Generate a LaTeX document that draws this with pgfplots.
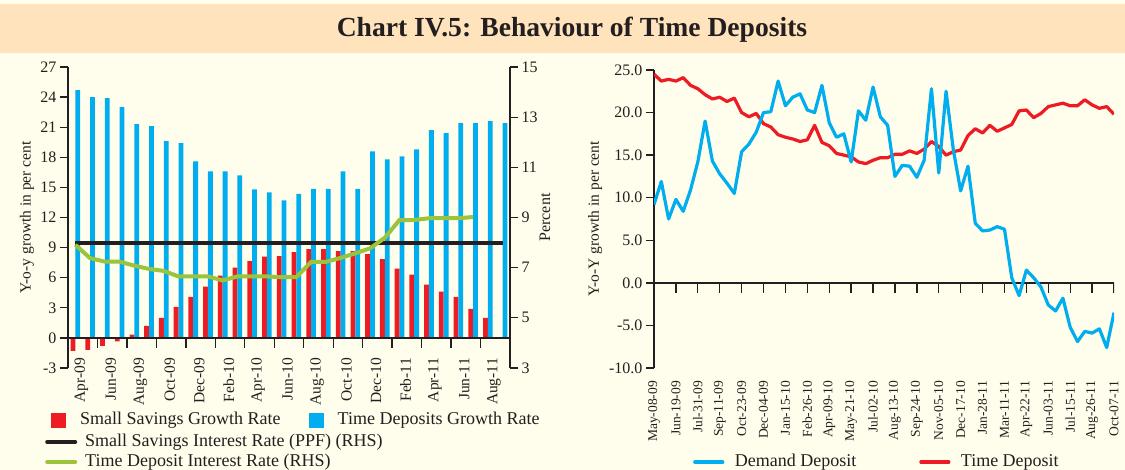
\documentclass[border=0pt]{standalone}
\usepackage{fontspec}
\setmainfont{Liberation Serif}
\usepackage{pgfplots}
\pgfplotsset{compat=1.18}
\definecolor{bg}{HTML}{FFFDEB}
\definecolor{band}{HTML}{FFE3BC}
\definecolor{cred}{HTML}{ED1C24}
\definecolor{cblue}{HTML}{00AEEF}
\definecolor{cgreen}{HTML}{9BC43C}
\definecolor{axc}{HTML}{231F20}
\pgfplotsset{
  common/.style={scale only axis,
    /pgf/number format/assume math mode=true,
    tick label style={font=\fontsize{16}{18}\selectfont, text=axc},
    axis line style={axc, line width=1.3pt, -},
    tick style={axc, line width=1.3pt},
    major tick length=8pt, tick align=outside},
  barleg/.style={legend image code/.code={\fill[##1] (0pt,-7.5pt) rectangle (15pt,7.5pt); \path[draw=none, fill=none] (0pt,0pt) -- (29pt,0pt);}},
  lineleg/.style={legend image code/.code={\draw[##1, line cap=round] (0pt,0pt) -- (28pt,0pt); \path[draw=none, fill=none] (0pt,0pt) -- (38pt,0pt);}},
  rlineleg/.style={legend image code/.code={\draw[##1, line cap=round] (0pt,0pt) -- (28pt,0pt); \path[draw=none, fill=none] (0pt,0pt) -- (40pt,0pt);}},
  legcells/.style={font=\fontsize{18}{20}\selectfont, text=axc, draw=none, fill=none, inner sep=0pt,
    nodes={inner sep=0pt, text height=12.5pt, text depth=4pt}},
}
\begin{document}
\begin{tikzpicture}[x=1pt,y=1pt]
\path[use as bounding box] (0,0) rectangle (1125,470);
\fill[bg] (0,0) rectangle (1125,470);
\fill[band] (0,417) rectangle (1125,466);
\node[font=\fontsize{27.6}{30}\selectfont\bfseries, text=axc] at (572,440) {Chart IV.5: Behaviour of Time Deposits};

% ---------------- left chart: bars
\begin{axis}[common, at={(68pt,102pt)}, anchor=south west, width=442pt, height=301pt,
  xmin=-0.5, xmax=29.5, ymin=-3, ymax=27, ytick={-3,0,...,27},
  axis y line*=left, ytick pos=left, yticklabel pos=left, axis x line=none,
  ybar=0pt, bar width=4.8pt,
  ylabel={Y-o-y growth in per cent},
  every axis y label/.style={at={(axis description cs:-0.093,0.5)}, rotate=90, anchor=center, font=\fontsize{15.5}{17}\selectfont, text=axc},
  legend style={legcells, at={(axis description cs:-0.0385,-0.1744)}, anchor=west,
    /tikz/every even column/.append style={column sep=28pt}},
  legend columns=-1, legend cell align=left]
\addplot[fill=cred, draw=none, barleg] coordinates {
(0,-1.3)(1,-1.2)(2,-0.8)(3,-0.35)(4,0.33)(5,1.2)(6,2.0)(7,3.1)(8,4.1)(9,5.1)
(10,6.2)(11,7.0)(12,7.65)(13,8.1)(14,8.15)(15,8.55)(16,8.85)(17,8.85)(18,8.65)(19,8.65)
(20,8.35)(21,7.85)(22,6.9)(23,6.3)(24,5.3)(25,4.6)(26,4.1)(27,2.9)(28,2.0)};
\addlegendentry{Small Savings Growth Rate}
\addplot[fill=cblue, draw=none, barleg] coordinates {
(0,24.7)(1,24.0)(2,23.9)(3,23.0)(4,21.3)(5,21.1)(6,19.6)(7,19.4)(8,17.6)(9,16.6)
(10,16.6)(11,16.2)(12,14.8)(13,14.5)(14,13.7)(15,14.35)(16,14.85)(17,14.85)(18,16.6)(19,14.85)
(20,18.6)(21,17.8)(22,18.1)(23,18.8)(24,20.7)(25,20.4)(26,21.4)(27,21.4)(28,21.6)(29,21.4)};
\addlegendentry{Time Deposits Growth Rate}
\end{axis}

% ---------------- left chart: rates (RHS)
\begin{axis}[common, at={(68pt,102pt)}, anchor=south west, width=442pt, height=301pt,
  xmin=-0.5, xmax=29.5, ymin=3, ymax=15, ytick={3,5,...,15},
  axis y line*=right, ytick pos=right, yticklabel pos=right,
  axis x line*=bottom, xtick pos=left, xticklabel pos=left,
  x axis line style={draw=none}, xtick style={draw=none},
  xtick={0,2,...,28},
  xticklabels={Apr-09,Jun-09,Aug-09,Oct-09,Dec-09,Feb-10,Apr-10,Jun-10,Aug-10,Oct-10,Dec-10,Feb-11,Apr-11,Jun-11,Aug-11},
  xticklabel style={xshift=6pt, yshift=19pt, rotate=90, anchor=east, inner sep=1pt, font=\fontsize{15.5}{17}\selectfont},
  ylabel={Percent},
  every axis y label/.style={at={(axis description cs:1.079,0.5)}, rotate=90, anchor=center, font=\fontsize{16}{18}\selectfont, text=axc},
  legend style={legcells, at={(axis description cs:-0.052,-0.279)}, anchor=west, row sep=3.5pt},
  legend cell align=left]
\addplot[axc, line width=1.3pt, forget plot] coordinates {(-0.5,4.2)(29.5,4.2)};
\pgfplotsinvokeforeach{1.5,3.5,...,27.5}{\addplot[axc, line width=1.3pt, forget plot] coordinates {(#1,4.2)(#1,3.78)};}
\addplot[axc, line width=4pt, lineleg] coordinates {(0,8)(29,8)};
\addlegendentry{Small Savings Interest Rate (PPF) (RHS)}
\addplot[cgreen, line width=4pt, lineleg] coordinates {
(0,7.91)(1,7.38)(2,7.24)(3,7.24)(4,7.08)(5,6.95)(6,6.87)(7,6.65)(8,6.65)(9,6.65)
(10,6.49)(11,6.65)(12,6.65)(13,6.65)(14,6.62)(15,6.62)(16,7.23)(17,7.23)(18,7.39)(19,7.57)
(20,7.77)(21,8.19)(22,8.9)(23,8.9)(24,8.97)(25,8.97)(26,8.97)(27,9.02)};
\addlegendentry{Time Deposit Interest Rate (RHS)}
\end{axis}

% ---------------- right chart
\begin{axis}[common, at={(654pt,102pt)}, anchor=south west, width=460pt, height=298pt,
  xmin=0, xmax=63, ymin=-10, ymax=25, ytick={-10,-5,...,25},
  yticklabel style={/pgf/number format/fixed, /pgf/number format/fixed zerofill, /pgf/number format/precision=1},
  axis y line*=left, ytick pos=left, yticklabel pos=left,
  axis x line*=bottom, xtick pos=left, xticklabel pos=left,
  x axis line style={draw=none}, xtick style={draw=none},
  xtick={0,3,...,63},
  xticklabels={May-08-09,Jun-19-09,Jul-31-09,Sep-11-09,Oct-23-09,Dec-04-09,Jan-15-10,Feb-26-10,Apr-09-10,May-21-10,Jul-02-10,Aug-13-10,Sep-24-10,Nov-05-10,Dec-17-10,Jan-28-11,Mar-11-11,Apr-22-11,Jun-03-11,Jul-15-11,Aug-26-11,Oct-07-11},
  xticklabel style={yshift=-4pt, rotate=90, anchor=east, inner sep=1pt, font=\fontsize{13.5}{15}\selectfont},
  ylabel={Y-o-Y growth in per cent},
  every axis y label/.style={at={(axis description cs:-0.128,0.5)}, rotate=90, anchor=center, font=\fontsize{15.5}{17}\selectfont, text=axc},
  legend style={legcells, at={(axis description cs:0.0848,-0.3154)}, anchor=west,
    /tikz/every even column/.append style={column sep=63pt}},
  legend columns=-1, legend cell align=left]
\addlegendimage{cblue, line width=3.2pt, rlineleg}
\addlegendentry{Demand Deposit}
\addlegendimage{cred, line width=3.2pt, rlineleg}
\addlegendentry{Time Deposit}
\addplot[axc, line width=1.3pt, forget plot] coordinates {(0,0)(63,0)};
\pgfplotsinvokeforeach{3,6,...,63}{\addplot[axc, line width=1.3pt, forget plot] coordinates {(#1,0)(#1,-1.2)};}
\addplot[cred, line width=3.2pt, line join=round, forget plot] coordinates {
(0,24.5)(1,23.7)(2,23.9)(3,23.7)(4,24.1)(5,23.2)(6,22.8)(7,22.1)(8,21.6)(9,21.8)
(10,21.3)(11,21.7)(12,20.0)(13,19.5)(14,19.9)(15,18.7)(16,18.3)(17,17.4)(18,17.1)(19,16.9)
(20,16.6)(21,16.8)(22,18.5)(23,16.5)(24,16.1)(25,15.2)(26,15.0)(27,14.8)(28,14.2)(29,14.0)
(30,14.4)(31,14.7)(32,14.7)(33,15.1)(34,15.1)(35,15.5)(36,15.2)(37,15.7)(38,16.6)(39,16.0)
(40,15.0)(41,15.4)(42,15.6)(43,17.3)(44,18.1)(45,17.6)(46,18.5)(47,17.8)(48,18.2)(49,18.6)
(50,20.2)(51,20.3)(52,19.4)(53,19.9)(54,20.7)(55,20.9)(56,21.1)(57,20.8)(58,20.8)(59,21.5)
(60,20.9)(61,20.5)(62,20.7)(63,19.8)};
\addplot[cblue, line width=3.2pt, line join=round, forget plot] coordinates {
(0,9.2)(1,11.9)(2,7.5)(3,9.8)(4,8.4)(5,10.9)(6,14.2)(7,19.0)(8,14.3)(9,12.8)
(10,11.7)(11,10.5)(12,15.4)(13,16.3)(14,17.7)(15,20.0)(16,20.1)(17,23.7)(18,20.8)(19,21.8)
(20,22.2)(21,20.3)(22,20.0)(23,23.2)(24,18.8)(25,17.1)(26,17.5)(27,14.2)(28,20.2)(29,19.1)
(30,23.0)(31,19.5)(32,18.5)(33,12.5)(34,13.8)(35,13.7)(36,12.4)(37,14.4)(38,22.8)(39,12.9)
(40,22.5)(41,15.6)(42,10.8)(43,13.7)(44,7.0)(45,6.1)(46,6.2)(47,6.6)(48,6.3)(49,0.6)
(50,-1.5)(51,1.5)(52,0.6)(53,-0.5)(54,-2.6)(55,-3.3)(56,-1.8)(57,-5.2)(58,-6.9)(59,-5.7)
(60,-5.9)(61,-5.4)(62,-7.6)(63,-3.5)};
\end{axis}
\end{tikzpicture}
\end{document}
